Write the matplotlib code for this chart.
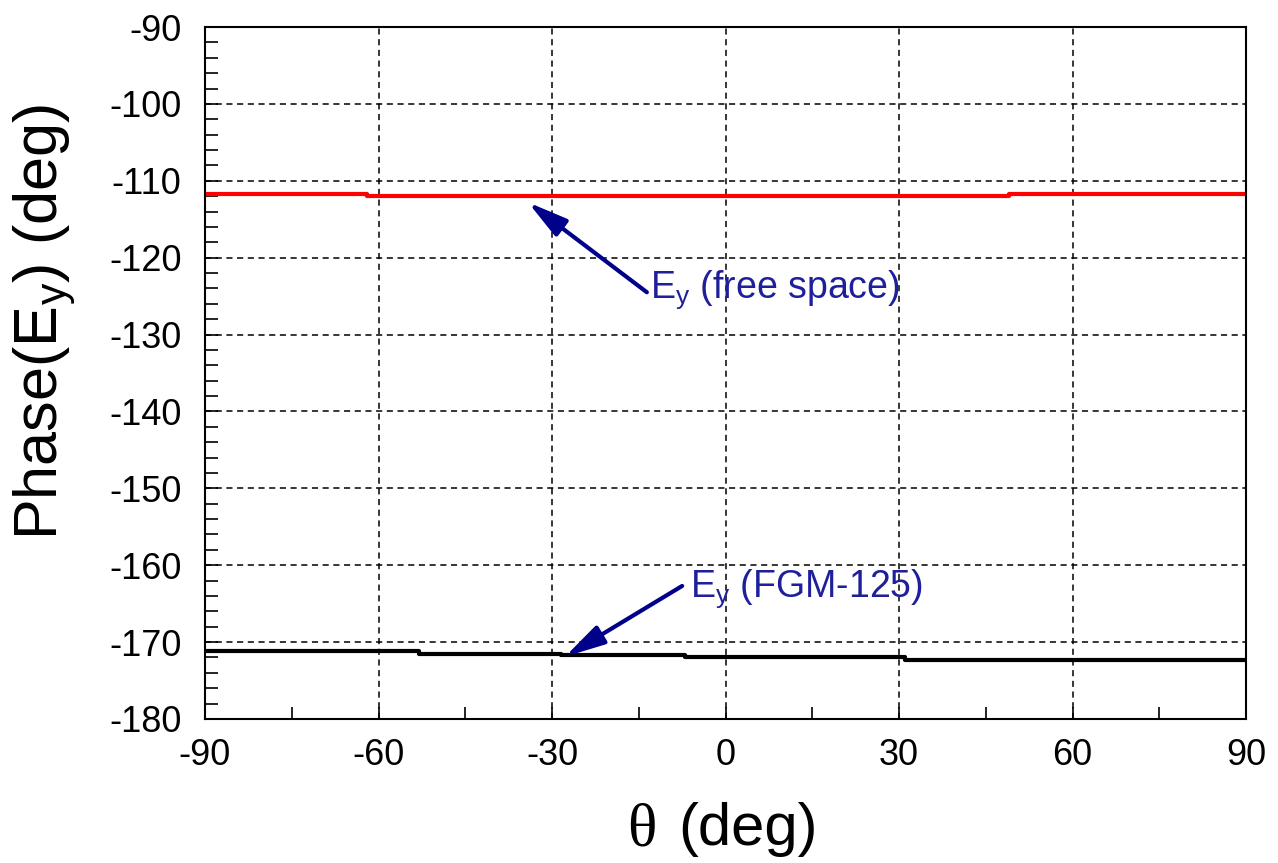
import numpy as np
import matplotlib.pyplot as plt
from matplotlib.ticker import MultipleLocator

plt.rcParams['font.family'] = ['Liberation Sans', 'DejaVu Sans']
plt.rcParams['axes.unicode_minus'] = False
plt.rcParams['mathtext.fontset'] = 'custom'
plt.rcParams['mathtext.rm'] = 'Liberation Sans'
plt.rcParams['mathtext.it'] = 'Liberation Sans'

# step edges (theta, deg) and phase levels (deg)
theta_free = [-90, -62, 49, 90]
phase_free = [-111.7, -112.0, -111.7, -111.7]

theta_fgm = [-90, -53, -28.5, -7, 31, 90]
phase_fgm = [-171.2, -171.5, -171.7, -172.0, -172.3, -172.3]

fig = plt.figure(figsize=(12.78, 8.63), dpi=100)
ax = fig.add_axes([0.1604, 0.1669, 0.8146, 0.8018])

ax.plot(theta_free, phase_free, drawstyle='steps-post', color='red', lw=3)
ax.plot(theta_fgm, phase_fgm, drawstyle='steps-post', color='black', lw=3)

ax.set_xlim(-90, 90)
ax.set_ylim(-180, -90)
ax.xaxis.set_major_locator(MultipleLocator(30))
ax.xaxis.set_minor_locator(MultipleLocator(15))
ax.yaxis.set_major_locator(MultipleLocator(10))
ax.yaxis.set_minor_locator(MultipleLocator(2))
ax.tick_params(which='both', direction='in', labelsize=26, width=1.2,
               top=False, right=False, length=9)
ax.tick_params(axis='y', pad=17)
ax.tick_params(axis='x', pad=14)
ax.grid(True, which='major', color='black', linestyle=(0, (4, 3)), lw=1.1)
for s in ax.spines.values():
    s.set_linewidth(1.5)

ax.set_ylabel('Phase(E$_\\mathrm{y}$) (deg)', fontsize=44)
ax.yaxis.set_label_coords(-0.122, 0.574)

# x label: serif theta, sans-serif rest
fig.text(0.4906, 0.0205, 'θ', family='Liberation Serif', fontsize=44,
         ha='left', va='baseline')
fig.text(0.5305, 0.0205, '(deg)', fontsize=43, ha='left', va='baseline')

navy = '#1f1f9c'
arrow = dict(arrowstyle='-|>,head_length=1.1,head_width=0.28', color='#00008b', lw=3,
             shrinkA=0, shrinkB=0, mutation_scale=22)
ax.annotate('', xy=(-34.15, -112.8), xytext=(-13.6, -124.5), arrowprops=arrow)
ax.annotate('', xy=(-27.75, -171.9), xytext=(-7.5, -162.7), arrowprops=arrow)
ax.text(-13.05, -125.25, 'E$_\\mathrm{y}$ (free space)', fontsize=27, color=navy,
        ha='left', va='baseline')
ax.text(-6.1, -164.1, 'E$_\\mathrm{y}$ (FGM-125)', fontsize=27, color=navy,
        ha='left', va='baseline')

fig.savefig('out.png', dpi=100)
